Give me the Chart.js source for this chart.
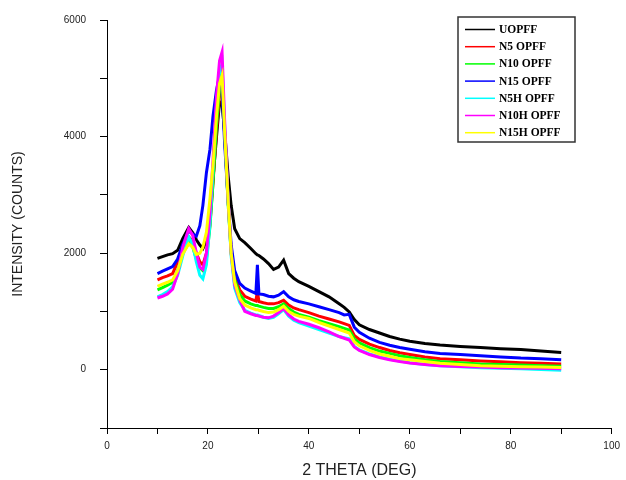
<!DOCTYPE html>
<html>
<head>
<meta charset="utf-8">
<script src="https://cdn.jsdelivr.net/npm/chart.js@4.4.1/dist/chart.umd.min.js"></script>
<style>
html,body{margin:0;padding:0;background:#fff;}
#wrap{width:626px;height:480px;}
</style>
</head>
<body>
<div id="wrap"><canvas id="c" width="626" height="480"></canvas></div>
<script>
const theta = [10,11,12,13,14,15,16.2,17,17.7,18.4,19,19.7,20.4,21,21.7,22.3,22.8,23.3,24,24.6,25.3,26.3,27.3,28.5,29.5,29.8,30.1,31,32,33,34,35,36,37,38,40,42,44,46,47,48,49,50,52,54,56,58,60,63,66,70,74,78,82,86,90];

const seriesNames = ["UOPFF","N5 OPFF","N10 OPFF","N15 OPFF","N5H OPFF","N10H OPFF","N15H OPFF"];
const seriesColors = ["#000000","#ff0000","#00ff00","#0000ff","#00ffff","#ff00ff","#ffff00"];

const uopff = [1910,1940,1970,1990,2050,2250,2440,2350,2230,2140,2080,2200,2600,3270,4000,4600,4550,4100,3330,2820,2420,2250,2180,2080,1990,1970,1960,1900,1820,1720,1760,1880,1650,1570,1510,1430,1340,1250,1130,1070,990,860,770,690,630,570,525,490,450,425,400,380,360,345,320,295];
const n5 = [1540,1580,1610,1650,1850,2100,2280,2200,2000,1850,1800,2000,2500,3200,4100,4700,4900,4050,2900,2050,1600,1370,1260,1210,1180,1350,1170,1150,1130,1130,1150,1190,1110,1060,1030,980,920,870,820,790,760,590,520,440,380,330,290,260,220,190,170,150,135,120,110,100];
const n10 = [1370,1410,1450,1500,1700,2000,2180,2100,1900,1750,1700,1900,2450,3200,4200,4800,4950,4050,2850,2000,1550,1290,1180,1130,1100,1100,1090,1070,1050,1050,1080,1130,1050,990,950,900,840,790,740,710,680,530,460,380,320,280,240,210,170,140,120,100,90,80,70,60];
const n15 = [1650,1690,1730,1770,1900,2150,2380,2330,2290,2470,2820,3380,3780,4350,4800,5050,4800,3900,2900,2150,1700,1480,1400,1350,1310,1800,1300,1290,1260,1250,1280,1340,1250,1200,1170,1130,1080,1030,980,940,950,730,640,540,470,420,380,350,310,280,260,240,220,200,190,170];
const n5h = [1250,1290,1340,1420,1620,1950,2280,2150,1850,1620,1560,1800,2500,3400,4500,5100,5250,4200,2900,1950,1400,1150,1020,970,940,940,930,900,880,900,960,1030,920,850,810,750,690,630,570,550,530,400,340,270,220,180,150,120,90,70,50,35,25,15,5,-10];
const n10h = [1230,1260,1300,1380,1650,2100,2420,2300,2000,1760,1720,2000,2700,3600,4700,5300,5450,4300,2930,2000,1450,1200,1000,960,930,930,920,900,890,920,980,1050,940,870,830,780,720,650,570,540,510,390,330,260,210,170,140,115,90,70,55,45,35,30,25,15];
const n15h = [1430,1470,1500,1540,1700,1980,2160,2100,1980,2000,2100,2360,2930,3500,4350,4910,5050,4100,2900,2000,1500,1220,1110,1060,1030,1030,1020,1000,980,990,1030,1090,1000,950,920,880,810,750,690,660,630,480,410,330,270,230,190,170,140,110,90,70,60,50,45,40];

const seriesValues = [uopff,n5,n10,n15,n5h,n10h,n15h];
const xTickLabels = [0,20,40,60,80,100];
const yTickLabels = [0,2000,4000,6000];

const datasets = seriesValues.map((vals,i)=>({
  label: seriesNames[i],
  data: theta.map((t,j)=>({x:t,y:vals[j]})),
  borderColor: seriesColors[i],
  backgroundColor: seriesColors[i],
  borderWidth: 3,
  pointRadius: 0,
  tension: 0,
  order: seriesValues.length - i
}));

const legendBox = {
  id:'legendBox',
  afterDraw(chart){
    const ctx = chart.ctx;
    ctx.save();
    const x0=458, y0=17, w=117, h=125;
    ctx.fillStyle='#fff';
    ctx.fillRect(x0,y0,w,h);
    ctx.strokeStyle='#333';
    ctx.lineWidth=1.5;
    ctx.strokeRect(x0,y0,w,h);
    ctx.font='bold 11.5px "Liberation Serif", "Times New Roman", serif';
    ctx.textBaseline='middle';
    ctx.textAlign='left';
    chart.data.datasets.forEach((ds,i)=>{
      const y = 29.5 + i*17.2;
      ctx.strokeStyle = ds.borderColor;
      ctx.lineWidth = 1.5;
      ctx.beginPath();
      ctx.moveTo(465,y);
      ctx.lineTo(495,y);
      ctx.stroke();
      ctx.fillStyle='#000';
      ctx.fillText(ds.label, 499, y+0.5);
    });
    ctx.restore();
  }
};

new Chart(document.getElementById('c'),{
  type:'line',
  data:{datasets},
  options:{
    responsive:false,
    animation:false,
    events:[],
    layout:{padding:{top:16,right:13,left:0,bottom:0}},
    plugins:{legend:{display:false},tooltip:{enabled:false}},
    scales:{
      x:{
        type:'linear',
        min:0,max:100,
        afterFit(s){s.height=52;},
        border:{display:true,color:'#000',width:1},
        grid:{display:true,drawOnChartArea:false,drawTicks:true,tickLength:6,tickColor:'#000',tickWidth:1},
        ticks:{
          stepSize:10,autoSkip:false,maxRotation:0,padding:6,color:'#222',
          font:{family:'"Liberation Sans", Arial, sans-serif',size:10},
          callback:(v)=> xTickLabels.includes(v) ? String(v) : ''
        },
        title:{display:true,text:'2 THETA (DEG)',color:'#222',
          font:{family:'"Liberation Sans", Arial, sans-serif',size:16},
          padding:{top:4,bottom:0}}
      },
      y:{
        type:'linear',
        min:-1000,max:6000,
        afterFit(s){s.width=107;},
        border:{display:true,color:'#000',width:1},
        grid:{display:true,drawOnChartArea:false,drawTicks:true,tickLength:7,tickColor:'#000',tickWidth:1},
        ticks:{
          stepSize:1000,autoSkip:false,padding:14,color:'#222',
          font:{family:'"Liberation Sans", Arial, sans-serif',size:10},
          callback:(v)=> yTickLabels.includes(v) ? String(v) : ''
        },
        title:{display:true,text:'INTENSITY (COUNTS)',color:'#222',
          font:{family:'"Liberation Sans", Arial, sans-serif',size:14},
          padding:{top:10,bottom:0}}
      }
    }
  },
  plugins:[legendBox]
});
</script>
</body>
</html>
